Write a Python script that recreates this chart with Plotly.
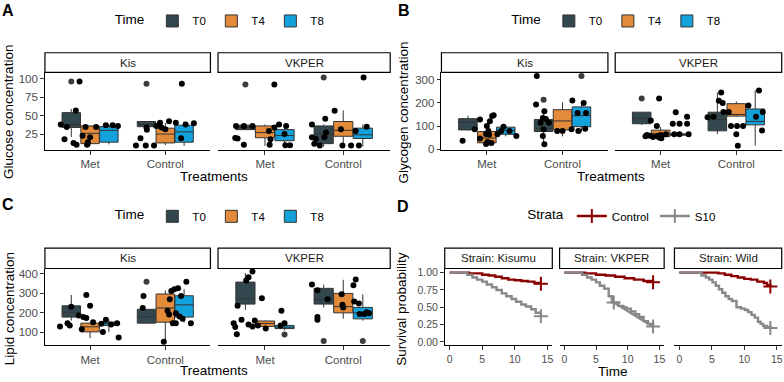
import plotly.graph_objects as go

W, H = 784, 382

# ---------------- data ----------------
time_levels = ["T0", "T4", "T8"]
time_colors = ["#33474F", "#E38B3B", "#13A2DB"]
treat_levels = ["Met", "Control"]
strain_levels = ["Kis", "VKPER"]

# box stats per facet: [lower whisker, q1, median, q3, upper whisker]
# order: Met T0, Met T4, Met T8, Control T0, Control T4, Control T8
glu_kis_box = [[21, 34, 38, 54, 59], [9, 12, 26, 36, 36], [11, 14, 30, 35, 38],
               [34, 35, 38, 42, 42], [10, 13, 25, 33, 40], [9, 14, 28, 37, 42]]
glu_vkper_box = [[31, 31, 34, 37, 37], [9, 20, 27, 36, 38], [8, 16, 23, 31, 38],
                 [8, 12, 25, 36, 38], [8, 22, 30, 42, 57], [8, 19, 24, 33, 38]]
gly_kis_box = [[80, 83, 117, 132, 145], [20, 27, 48, 76, 76], [55, 64, 80, 95, 97],
               [20, 76, 90, 128, 175], [55, 83, 122, 171, 203], [75, 97, 145, 183, 200]]
gly_vkper_box = [[105, 110, 132, 160, 160], [45, 54, 68, 82, 95], [58, 60, 62, 66, 66],
                 [65, 79, 128, 160, 245], [140, 143, 150, 197, 207], [15, 105, 120, 174, 255]]
lip_kis_box = [[160, 178, 203, 236, 292], [70, 102, 128, 147, 150], [100, 135, 145, 152, 165],
               [147, 147, 180, 218, 218], [50, 152, 225, 297, 315], [150, 178, 241, 288, 322]]
lip_vkper_box = [[215, 245, 272, 358, 405], [120, 130, 145, 158, 160], [110, 119, 126, 135, 140],
                 [228, 245, 268, 326, 345], [170, 200, 232, 300, 370], [160, 169, 200, 228, 295]]

# jittered observations: values and horizontal jitter (category units)
glu_kis_met_y = [96, 38, 34.6, 18, 57, 12.8, 10.5, 34.6, 22.8, 20.6, 14, 10.5, 34.6, 36.8, 36.8, 36]
glu_kis_met_jit = [-0.14, -0.39, -0.31, -0.34, -0.19, -0.22, -0.18, -0.06, -0.10, 0.0, -0.03, -0.04, 0.08, 0.21, 0.30, 0.37]
glu_kis_ctl_y = [9.6, 19.3, 9.6, 9.6, 33.8, 30.7, 36, 40.4, 33.8, 31.6, 42.5, 40.4, 19.3, 93, 38, 39.5]
glu_kis_ctl_jit = [-0.39, -0.33, -0.26, -0.15, -0.25, -0.245, -0.12, -0.07, -0.05, 0.0, 0.05, 0.14, 0.21, 0.22, 0.27, 0.38]
glu_vk_met_y = [92, 36, 36, 36, 19.7, 19, 10.5, 29, 18, 10.5, 33.8, 38, 36, 25, 10, 10]
glu_vk_met_jit = [0.12, -0.37, -0.27, -0.16, -0.38, -0.35, -0.27, 0.05, 0.07, 0.06, 0.12, 0.18, 0.27, 0.25, 0.26, 0.32]
glu_vk_ctl_y = [101.7, 56.6, 45.6, 38, 20.6, 18.4, 20.6, 11.8, 9.6, 27, 31.6, 9.6, 9.6, 9.6, 29, 35]
glu_vk_ctl_jit = [0.26, -0.11, -0.23, -0.40, -0.40, -0.35, -0.24, -0.37, -0.30, -0.22, -0.03, -0.01, 0.10, 0.20, 0.16, 0.30]

gly_kis_met_y = [35.7, 85.7, 128.6, 100, 78.6, 65, 62, 45.7, 31, 25.7, 21.4, 143, 147, 121, 64, 78.6, 97, 78.6, 57]
gly_kis_met_jit = [-0.32, -0.16, -0.09, 0.0, 0.02, -0.01, 0.03, -0.09, 0.01, 0.06, -0.01, 0.07, 0.09, 0.04, 0.14, 0.19, 0.22, 0.30, 0.39]
gly_kis_ctl_y = [317, 193, 164, 135, 130, 114, 114, 86, 57, 21, 78.6, 78.6, 86, 211, 78.6, 157, 200, 157, 88.6]
gly_kis_ctl_jit = [-0.34, -0.35, -0.24, -0.26, -0.22, -0.29, -0.18, -0.25, -0.26, -0.24, -0.07, 0.0, 0.12, 0.13, 0.21, 0.20, 0.28, 0.31, 0.30]
gly_vk_met_y = [219, 124, 61, 58, 100, 57, 47, 61, 64, 160, 110, 110, 140, 110, 64, 64, 64, 55, 52, 50]
gly_vk_met_jit = [-0.02, -0.13, -0.18, -0.14, -0.05, -0.04, 0.01, 0.0, 0.07, 0.20, 0.16, 0.25, 0.35, 0.35, 0.18, 0.25, 0.37, -0.20, -0.10, -0.02]
gly_vk_ctl_y = [246, 210, 200, 138, 161, 161, 100, 100, 64, 14, 100, 189, 254, 161, 140, 81, 140]
gly_vk_ctl_jit = [-0.20, -0.23, -0.18, -0.38, -0.17, -0.10, 0.01, -0.07, 0.0, 0.02, 0.09, 0.16, 0.30, 0.35, 0.26, 0.34, -0.30]

lip_kis_met_y = [130, 147, 135, 231, 186, 178, 174, 115, 292, 236, 152, 102, 164, 140, 147, 73, 144]
lip_kis_met_jit = [-0.40, -0.30, -0.27, -0.25, -0.15, -0.09, -0.05, -0.11, -0.05, 0.0, 0.04, 0.17, 0.21, 0.28, 0.36, 0.38, 0.15]
lip_kis_ctl_y = [287, 225, 51, 211, 270, 312, 321, 326, 360, 287, 191, 198, 147, 181, 169, 147, 147]
lip_kis_ctl_jit = [-0.29, -0.30, -0.02, 0.03, 0.06, 0.08, 0.12, 0.17, 0.28, 0.21, 0.05, 0.14, 0.14, 0.19, 0.23, 0.34, 0.10]
lip_vk_met_y = [413, 383, 366, 236, 275, 147, 127, 90, 164, 140, 130, 161, 135, 119, 211, 135, 147]
lip_vk_met_jit = [-0.16, -0.21, -0.24, -0.35, -0.04, -0.40, -0.38, -0.36, -0.30, -0.21, -0.16, -0.13, -0.09, 0.01, 0.21, 0.20, 0.25]
lip_vk_ctl_y = [346, 316, 178, 164, 270, 295, 241, 228, 342, 371, 258, 248, 194, 194, 203, 198]
lip_vk_ctl_jit = [-0.40, -0.33, -0.33, -0.33, -0.20, -0.02, -0.01, 0.00, 0.13, 0.16, 0.14, 0.20, 0.21, 0.27, 0.30, 0.33]

# boxplot outliers: (treatment index, time index, value)
glu_kis_out = [(0, 0, 96), (1, 0, 93)]
glu_vk_out = [(0, 0, 92), (1, 0, 101.7)]
gly_kis_out = [(1, 0, 214), (1, 2, 317)]
gly_vk_out = [(0, 0, 219)]
lip_kis_out = [(1, 0, 360)]
lip_vk_out = [(0, 2, 88), (1, 0, 55), (1, 2, 55)]

# survival (Kaplan-Meier) curves
strata_levels = ["Control", "S10"]
strata_colors = ["#8B0000", "#888888"]
surv_strains = ["Strain: Kisumu", "Strain: VKPER", "Strain: Wild"]
kis_ctl_t = [0, 3, 5, 6, 7, 8, 9, 10, 11, 12, 13, 14]
kis_ctl_s = [1, 0.99, 0.97, 0.96, 0.94, 0.92, 0.90, 0.89, 0.88, 0.87, 0.85, 0.84]
kis_s10_t = [0, 2.7, 3.5, 4.2, 5, 5.7, 6.5, 7.2, 8, 8.7, 9.5, 10.2, 11, 11.7, 12.5, 13.2, 14]
kis_s10_s = [1, 0.97, 0.93, 0.90, 0.87, 0.83, 0.79, 0.75, 0.70, 0.66, 0.62, 0.58, 0.54, 0.51, 0.47, 0.42, 0.37]
vk_ctl_t = [0, 3.3, 5, 6.5, 8, 9.5, 11, 12.5, 14]
vk_ctl_s = [1, 0.99, 0.97, 0.96, 0.94, 0.92, 0.90, 0.88, 0.86]
vk_s10_t = [0, 2.8, 3.6, 4.3, 5.0, 5.6, 6.3, 7.0, 7.5, 8.5, 9.3, 9.8, 10.5, 11.2, 11.8, 12.5, 13.2, 14]
vk_s10_s = [1, 0.97, 0.93, 0.90, 0.86, 0.81, 0.77, 0.66, 0.57, 0.52, 0.50, 0.48, 0.44, 0.40, 0.36, 0.30, 0.26, 0.22]
wild_ctl_t = [0, 3.2, 6, 7, 8, 9, 10, 11, 12, 13, 13.5, 14]
wild_ctl_s = [1, 1.0, 0.99, 0.97, 0.95, 0.93, 0.91, 0.90, 0.87, 0.85, 0.82, 0.80]
wild_s10_t = [0, 3.4, 4.1, 4.6, 5.1, 5.6, 6.1, 6.6, 7.1, 7.6, 8.1, 8.8, 9.5, 10.1, 10.6, 11.1, 11.6, 12.1, 12.5, 12.9, 13.5, 14]
wild_s10_s = [1, 0.96, 0.93, 0.90, 0.86, 0.81, 0.76, 0.71, 0.66, 0.62, 0.59, 0.50, 0.48, 0.46, 0.43, 0.39, 0.35, 0.29, 0.26, 0.23, 0.21, 0.20]
# censor marks
kis_ctl_cens = ([14], [0.84]); kis_s10_cens = ([14], [0.37])
vk_ctl_cens = ([14], [0.86]); vk_s10_cens = ([7.8, 14], [0.57, 0.22])
wild_ctl_cens = ([14], [0.80]); wild_s10_cens = ([14], [0.20])

# ---------------- helpers ----------------
FONT = "Liberation Sans, Arial, sans-serif"
TICKFONT = dict(family=FONT, size=11.5, color="#4D4D4D")
TICKFONT_D = dict(family=FONT, size=10.5, color="#4D4D4D")


def pxx(x):
    return x / W


def pxy(y):
    return 1 - y / H


fig = go.Figure()
layout = {}
shapes = []
annotations = []


def axname(i):
    return ("x", "y") if i == 1 else (f"x{i}", f"y{i}")


def setup_axes(i, x0, x1, y0, y1, strip_top, xrange, yrange, first, xtickvals, xticktext,
               ytickvals, yticktext, strip_text, tickfont):
    xa, ya = axname(i)
    key = "" if i == 1 else str(i)
    layout["xaxis" + key] = dict(domain=[pxx(x0), pxx(x1)], range=xrange, anchor=ya,
                                 tickvals=xtickvals, ticktext=xticktext, showline=True,
                                 linecolor="black", linewidth=1.1, ticks="outside", ticklen=3.7,
                                 tickwidth=1, tickcolor="#333333", tickfont=tickfont,
                                 showgrid=False, zeroline=False, fixedrange=True)
    layout["yaxis" + key] = dict(domain=[pxy(y1), pxy(y0)], range=yrange, anchor=xa,
                                 tickvals=ytickvals, ticktext=yticktext, showline=first,
                                 linecolor="black", linewidth=1.1,
                                 ticks="outside" if first else "", ticklen=3.7, tickwidth=1,
                                 tickcolor="#333333", showticklabels=first, tickfont=tickfont,
                                 showgrid=False, zeroline=False, fixedrange=True)
    shapes.append(dict(type="rect", xref=f"{xa} domain", x0=0, x1=1, yref="paper",
                       y0=pxy(y0), y1=pxy(strip_top), line=dict(color="black", width=1.2),
                       fillcolor="white", layer="above"))
    annotations.append(dict(text=strip_text, xref=f"{xa} domain", x=0.5, yref="paper",
                            y=pxy((y0 + strip_top) / 2), showarrow=False,
                            font=dict(family=FONT, size=11.5, color="#1A1A1A"),
                            xanchor="center", yanchor="middle"))


def add_box_facet(i, box_stats, met_y, met_jit, ctl_y, ctl_jit, outliers, legend_name, showlegend):
    xa, ya = axname(i)
    for ti in range(2):
        for k in range(3):
            lo, q1, med, q3, hi = box_stats[ti * 3 + k]
            pos = (ti + 1) + (k - 1) * 0.25
            fig.add_trace(go.Box(x=[pos], lowerfence=[lo], q1=[q1], median=[med], q3=[q3],
                                 upperfence=[hi], width=0.245, whiskerwidth=0,
                                 fillcolor=time_colors[k], line=dict(color="#333333", width=1),
                                 name=time_levels[k], legendgroup=legend_name + time_levels[k],
                                 showlegend=showlegend and ti == 0, legend=legend_name,
                                 boxpoints=False, xaxis=xa, yaxis=ya, hoverinfo="skip"))
    if outliers:
        fig.add_trace(go.Scatter(x=[(o[0] + 1) + (o[1] - 1) * 0.25 for o in outliers],
                                 y=[o[2] for o in outliers], mode="markers",
                                 marker=dict(color="#3C3C3C", size=6), showlegend=False,
                                 xaxis=xa, yaxis=ya, hoverinfo="skip"))
    for ti, (ys, js) in enumerate([(met_y, met_jit), (ctl_y, ctl_jit)]):
        fig.add_trace(go.Scatter(x=[ti + 1 + j for j in js], y=ys, mode="markers",
                                 marker=dict(color="black", size=6), showlegend=False,
                                 xaxis=xa, yaxis=ya, hoverinfo="skip"))


# ---------------- layout geometry ----------------
AB_strip, AB_top, AB_bot = 51.7, 71.7, 150.7
CD_strip, CD_top, CD_bot = 250.7, 271.5, 349.7
left_facets = [(45, 210.7), (218.3, 390.7)]
right_facets = [(442, 608.7), (616, 782.7)]
surv_facets = [(445.3, 553), (560.3, 665), (675.3, 782.7)]

panels = [
    (1, left_facets, (AB_strip, AB_top, AB_bot), [3.5, 108.5], [25, 50, 75, 100],
     [(glu_kis_box, glu_kis_met_y, glu_kis_met_jit, glu_kis_ctl_y, glu_kis_ctl_jit, glu_kis_out),
      (glu_vkper_box, glu_vk_met_y, glu_vk_met_jit, glu_vk_ctl_y, glu_vk_ctl_jit, glu_vk_out)],
     "legend"),
    (3, right_facets, (AB_strip, AB_top, AB_bot), [-4, 333], [0, 100, 200, 300],
     [(gly_kis_box, gly_kis_met_y, gly_kis_met_jit, gly_kis_ctl_y, gly_kis_ctl_jit, gly_kis_out),
      (gly_vkper_box, gly_vk_met_y, gly_vk_met_jit, gly_vk_ctl_y, gly_vk_ctl_jit, gly_vk_out)],
     "legend2"),
    (5, left_facets, (CD_strip, CD_top, CD_bot), [33, 428], [100, 200, 300, 400],
     [(lip_kis_box, lip_kis_met_y, lip_kis_met_jit, lip_kis_ctl_y, lip_kis_ctl_jit, lip_kis_out),
      (lip_vkper_box, lip_vk_met_y, lip_vk_met_jit, lip_vk_ctl_y, lip_vk_ctl_jit, lip_vk_out)],
     "legend3"),
]

for start, facets, (st, top, bot), yr, yt, data, leg in panels:
    for f in range(2):
        i = start + f
        x0, x1 = facets[f]
        setup_axes(i, x0, x1, top, bot, st, [0.4, 2.6], yr, f == 0, [1, 2], treat_levels,
                   yt, [str(v) for v in yt], strain_levels[f], TICKFONT)
        add_box_facet(i, *data[f], legend_name=leg, showlegend=(f == 0))

# survival panel
surv_data = [
    [(kis_ctl_t, kis_ctl_s, kis_ctl_cens), (kis_s10_t, kis_s10_s, kis_s10_cens)],
    [(vk_ctl_t, vk_ctl_s, vk_ctl_cens), (vk_s10_t, vk_s10_s, vk_s10_cens)],
    [(wild_ctl_t, wild_ctl_s, wild_ctl_cens), (wild_s10_t, wild_s10_s, wild_s10_cens)],
]
for f in range(3):
    i = 7 + f
    x0, x1 = surv_facets[f]
    setup_axes(i, x0, x1, CD_top, CD_bot, CD_strip, [-0.75, 15.75], [-0.05, 1.06], f == 0,
               [0, 5, 10, 15], ["0", "5", "10", "15"], [0, 0.25, 0.5, 0.75, 1.0],
               ["0.00", "0.25", "0.50", "0.75", "1.00"], surv_strains[f], TICKFONT_D)
    xa, ya = axname(i)
    for s in range(2):
        t, sv, cens = surv_data[f][s]
        fig.add_trace(go.Scatter(x=t, y=sv, mode="lines",
                                 line=dict(shape="hv", color=strata_colors[s], width=2.4),
                                 showlegend=False, xaxis=xa, yaxis=ya, hoverinfo="skip"))
    for s in range(2):
        t, sv, cens = surv_data[f][s]
        fig.add_trace(go.Scatter(x=cens[0], y=cens[1], mode="lines+markers",
                                 line=dict(color=strata_colors[s], width=2.4),
                                 marker=dict(symbol="cross-thin", size=10,
                                             line=dict(color=strata_colors[s], width=2)),
                                 name=strata_levels[s], legend="legend4",
                                 showlegend=(f == 0), xaxis=xa, yaxis=ya, hoverinfo="skip"))

# legends
def legend_cfg(x, y, title, entry=None):
    cfg = dict(title=dict(text=title, font=dict(family=FONT, size=13.5, color="black"), side="left"),
               orientation="h", x=pxx(x), y=pxy(y), xanchor="left", yanchor="middle",
               font=dict(family=FONT, size=11.5, color="black"), bgcolor="rgba(0,0,0,0)",
               itemwidth=30, tracegroupgap=0, itemclick=False, itemdoubleclick=False)
    if entry:
        cfg.update(entrywidth=entry, entrywidthmode="pixels")
    return cfg

layout["legend"] = legend_cfg(113, 19.3, "Time", 14)
layout["legend2"] = legend_cfg(510, 19.3, "Time", 14)
layout["legend3"] = legend_cfg(113, 218.3, "Time", 14)
layout["legend4"] = legend_cfg(526, 218, "Strata", 38)

# titles & panel letters
def text_ann(text, x, y, size, angle=0, bold=False):
    annotations.append(dict(text=f"<b>{text}</b>" if bold else text, x=pxx(x), y=pxy(y),
                            xref="paper", yref="paper", showarrow=False, textangle=angle,
                            font=dict(family=FONT, size=size, color="black"),
                            xanchor="center", yanchor="middle"))

text_ann("Glucose concentration", 9, 112, 13.5, -90)
text_ann("Treatments", 214, 178, 13.5)
text_ann("Glycogen concentration", 404, 112, 13.5, -90)
text_ann("Treatments", 612, 178, 13.5)
text_ann("Lipid concentration", 9, 312, 13.5, -90)
text_ann("Treatments", 214, 375, 13.5)
text_ann("Survival probability", 402, 312, 13.5, -90)
text_ann("Time", 614, 376.5, 13.5)
text_ann("A", 8.5, 8.5, 16, bold=True)
text_ann("B", 404.5, 8.5, 16, bold=True)
text_ann("C", 8, 206.5, 16, bold=True)
text_ann("D", 404, 208, 16, bold=True)

fig.update_layout(width=W, height=H, margin=dict(l=0, r=0, t=0, b=0), autosize=False,
                  paper_bgcolor="white", plot_bgcolor="white", boxmode="overlay",
                  shapes=shapes, annotations=annotations, **layout)

fig.write_html("out.html")
